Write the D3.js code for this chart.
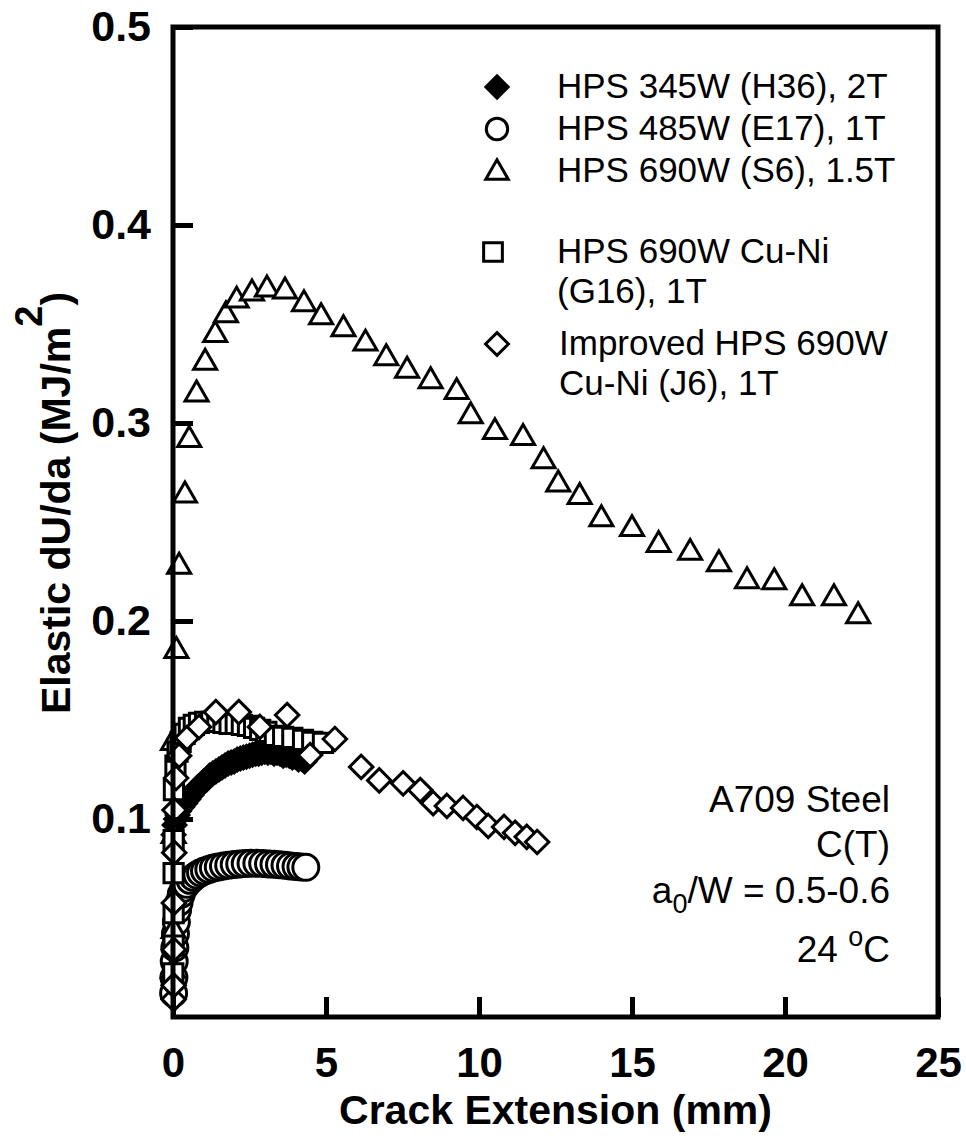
<!DOCTYPE html>
<html>
<head>
<meta charset="utf-8">
<script src="https://cdn.jsdelivr.net/npm/d3@7"></script>
<style>
  body { margin: 0; background: #fff; }
  text { font-family: 'Liberation Sans', Arial, sans-serif; }
</style>
</head>
<body>
<div id="chart"></div>
<script>
// Data: [crack extension (mm), elastic dU/da (MJ/m2)]
const h36 = [[0.02,0.092],[0.05,0.097],[0.1,0.1],[0.15,0.102],[0.2,0.104],[0.3,0.106],[0.4,0.108],[0.5,0.11],
  [0.6,0.112],[0.7,0.114],[0.8,0.116],[0.9,0.117],[1.0,0.119],[1.1,0.12],[1.2,0.122],[1.3,0.123],[1.4,0.124],
  [1.5,0.125],[1.6,0.126],[1.7,0.127],[1.8,0.128],[1.9,0.1285],[2.0,0.129],[2.1,0.13],[2.2,0.1305],[2.3,0.131],
  [2.4,0.1315],[2.5,0.132],[2.6,0.1325],[2.7,0.133],[2.8,0.133],[2.9,0.1335],[3.0,0.134],[3.1,0.1335],[3.2,0.134],
  [3.3,0.133],[3.4,0.1335],[3.5,0.133],[3.6,0.132],[3.7,0.1325],[3.8,0.132],[3.9,0.131],[4.0,0.1315],[4.1,0.13],
  [4.2,0.1305],[4.3,0.129]]

const e17 = [[0.02,0.012],[0.03,0.02],[0.04,0.028],[0.06,0.035],[0.08,0.042],[0.11,0.048],[0.15,0.054],[0.2,0.058],
  [0.27,0.062],[0.35,0.065],[0.45,0.067],[0.56,0.069],[0.67,0.0705],[0.78,0.0717],[0.9,0.0728],[1.03,0.0737],
  [1.17,0.0745],[1.32,0.0752],[1.48,0.0758],[1.65,0.0763],[1.82,0.0767],[2.0,0.077],[2.18,0.0773],[2.36,0.0775],
  [2.55,0.0776],[2.74,0.0776],[2.93,0.0775],[3.12,0.0773],[3.3,0.0771],[3.48,0.0769],[3.66,0.0766],[3.84,0.0763],
  [4.02,0.076],[4.18,0.0758],[4.34,0.0756]]

const s6 = [[0.0,0.025],[0.02,0.045],[0.02,0.093],[0.0,0.14],[0.11,0.1865],[0.2,0.229],[0.39,0.265],[0.53,0.293],
  [0.77,0.316],[1.05,0.332],[1.38,0.346],[1.73,0.356],[2.08,0.3634],[2.58,0.367],[3.07,0.369],[3.66,0.368],
  [4.28,0.3616],[4.84,0.355],[5.57,0.349],[6.29,0.3417],[6.97,0.3343],[7.65,0.328],[8.42,0.3227],[9.27,0.3172],
  [9.73,0.305],[10.52,0.297],[11.44,0.294],[12.11,0.2823],[12.59,0.2705],[13.29,0.2642],[14.0,0.253],[15.0,0.248],
  [15.87,0.24],[16.9,0.236],[17.84,0.2303],[18.76,0.2217],[19.65,0.2212],[20.56,0.2131],[21.6,0.2131],[22.39,0.204]]

const g16 = [[0.01,0.022],[0.02,0.036],[0.02,0.0525],[0.02,0.0727],[0.02,0.0894],[0.03,0.1146],[0.08,0.127],
  [0.15,0.134],[0.25,0.139],[0.38,0.143],[0.52,0.146],[0.68,0.1475],[0.85,0.1485],[1.05,0.149],[1.25,0.149],
  [1.45,0.149],[1.65,0.1485],[1.85,0.148],[2.05,0.148],[2.25,0.1475],[2.45,0.147],[2.65,0.146],[2.85,0.145],
  [3.05,0.144],[3.33,0.142],[3.6,0.1415],[3.9,0.141],[4.25,0.14],[4.55,0.139],[4.9,0.1385]]

const j6 = [[0.02,0.009],[0.02,0.016],[0.03,0.034],[0.03,0.0576],[0.04,0.083],[0.05,0.1045],[0.1,0.1207],
  [0.2,0.132],[0.46,0.141],[0.85,0.1465],[1.4,0.154],[2.15,0.154],[2.84,0.1465],[3.73,0.1525],[4.48,0.1323],
  [5.29,0.1404],[6.15,0.1263],[6.74,0.1195],[7.52,0.118],[8.08,0.1146],[8.5,0.108],[8.95,0.1066],[9.48,0.1056],
  [9.93,0.101],[10.3,0.0965],[10.82,0.096],[11.18,0.093],[11.56,0.091],[11.9,0.0884]]

const xTicks = [0, 5, 10, 15, 20, 25]
const yTicks = [0.1, 0.2, 0.3, 0.4, 0.5]

const legendLabels = [
  ['HPS 345W (H36), 2T'],
  ['HPS 485W (E17), 1T'],
  ['HPS 690W (S6), 1.5T'],
  ['HPS 690W Cu-Ni', '(G16), 1T'],
  ['Improved HPS 690W', 'Cu-Ni (J6), 1T']
]

;(() => {
  // Vars for dimensions
  const margin = { top: 27, right: 28, bottom: 122, left: 173 }
  const width = 966
  const height = 1139
  const innerWidth = width - margin.left - margin.right
  const innerHeight = height - margin.top - margin.bottom

  const svg = d3.select('#chart')
    .append('svg')
    .attr('width', width)
    .attr('height', height)

  const g = svg.append('g')
    .attr('transform', `translate(${margin.left}, ${margin.top})`)

  const x = d3.scaleLinear().domain([0, 25]).range([0, innerWidth])
  const y = d3.scaleLinear().domain([0, 0.5]).range([innerHeight, 0])

  // Marker shapes
  const shapes = [
    { type: d3.symbolDiamond2, size: 330, fill: '#000', dy: 0 },
    { type: d3.symbolCircle, size: 530, fill: '#fff', dy: 0 },
    { type: d3.symbolTriangle2, size: 380, fill: '#fff', dy: 3 },
    { type: d3.symbolSquare2, size: 470, fill: '#fff', dy: 0 },
    { type: d3.symbolDiamond2, size: 350, fill: '#fff', dy: 0 }
  ]
  const series = [h36, e17, s6, g16, j6]

  series.forEach((data, i) => {
    const s = shapes[i]
    g.append('g')
      .selectAll('path')
      .data(data)
      .join('path')
      .attr('transform', d => `translate(${x(d[0])}, ${y(d[1]) + s.dy})`)
      .attr('d', d3.symbol().type(s.type).size(s.size))
      .attr('fill', s.fill)
      .attr('stroke', '#000')
      .attr('stroke-width', 3)
  })

  // Bottom axis
  const xAxis = g.append('g')
    .attr('transform', `translate(0, ${innerHeight})`)
    .call(d3.axisBottom(x).tickValues(xTicks).tickSizeInner(-20).tickSizeOuter(0).tickPadding(30))
  xAxis.select('.domain').remove()
  xAxis.selectAll('line').attr('stroke-width', 5)
  xAxis.selectAll('text')
    .attr('font-size', 42)
    .attr('font-weight', 'bold')
    .attr('fill', '#000')

  // Left axis
  const yAxis = g.append('g')
    .call(d3.axisLeft(y).tickValues(yTicks).tickFormat(d3.format('.1f')).tickSizeInner(-20).tickSizeOuter(0).tickPadding(22))
  yAxis.select('.domain').remove()
  yAxis.selectAll('line').attr('stroke-width', 5)
  yAxis.selectAll('text')
    .attr('font-size', 43)
    .attr('font-weight', 'bold')
    .attr('fill', '#000')

  // Frame
  g.append('rect')
    .attr('width', innerWidth)
    .attr('height', innerHeight)
    .attr('fill', 'none')
    .attr('stroke', '#000')
    .attr('stroke-width', 5)

  // Axis titles
  svg.append('text')
    .attr('x', margin.left + innerWidth / 2)
    .attr('y', 1124)
    .attr('text-anchor', 'middle')
    .attr('font-size', 41)
    .attr('font-weight', 'bold')
    .text('Crack Extension (mm)')

  const yTitle = svg.append('text')
    .attr('transform', 'translate(70, 503) rotate(-90)')
    .attr('text-anchor', 'middle')
    .attr('font-size', 41)
    .attr('font-weight', 'bold')
  yTitle.append('tspan').text('Elastic dU/da (MJ/m')
  yTitle.append('tspan').attr('dy', -28).attr('font-size', 38).text('2')
  yTitle.append('tspan').attr('dy', 28).text(')')

  // Legend
  const legend = svg.append('g')
  let rowY = 98
  const rowGap = [42, 42, 81, 92, 0]
  legendLabels.forEach((lines, i) => {
    const s = shapes[i]
    const capMid = rowY - 11
    legend.append('path')
      .attr('transform', `translate(${i === 3 ? 493 : 497}, ${capMid + s.dy * 0.6})`)
      .attr('d', d3.symbol().type(s.type).size(i === 1 ? 360 : s.size * 0.95))
      .attr('fill', s.fill)
      .attr('stroke', '#000')
      .attr('stroke-width', 3)
    const t = legend.append('text')
      .attr('x', i === 4 ? 559 : 557)
      .attr('y', rowY)
      .attr('font-size', 35)
    lines.forEach((line, j) => {
      t.append('tspan')
        .attr('x', i === 4 ? 559 : 557)
        .attr('dy', j === 0 ? 0 : 40)
        .text(line)
    })
    rowY += rowGap[i]
  })

  // Annotation
  const note = svg.append('g')
    .attr('font-size', 37)
    .attr('text-anchor', 'end')
  note.append('text').attr('x', 890).attr('y', 812).text('A709 Steel')
  note.append('text').attr('x', 890).attr('y', 857).text('C(T)')
  const aw = note.append('text').attr('x', 890).attr('y', 903)
  aw.append('tspan').text('a')
  aw.append('tspan').attr('dy', 10).attr('font-size', 27).text('0')
  aw.append('tspan').attr('dy', -10).text('/W = 0.5-0.6')
  const temp = note.append('text').attr('x', 890).attr('y', 962)
  temp.append('tspan').text('24 ')
  temp.append('tspan').attr('dy', -16).attr('font-size', 27).text('o')
  temp.append('tspan').attr('dy', 16).text('C')
})()
</script>
</body>
</html>
